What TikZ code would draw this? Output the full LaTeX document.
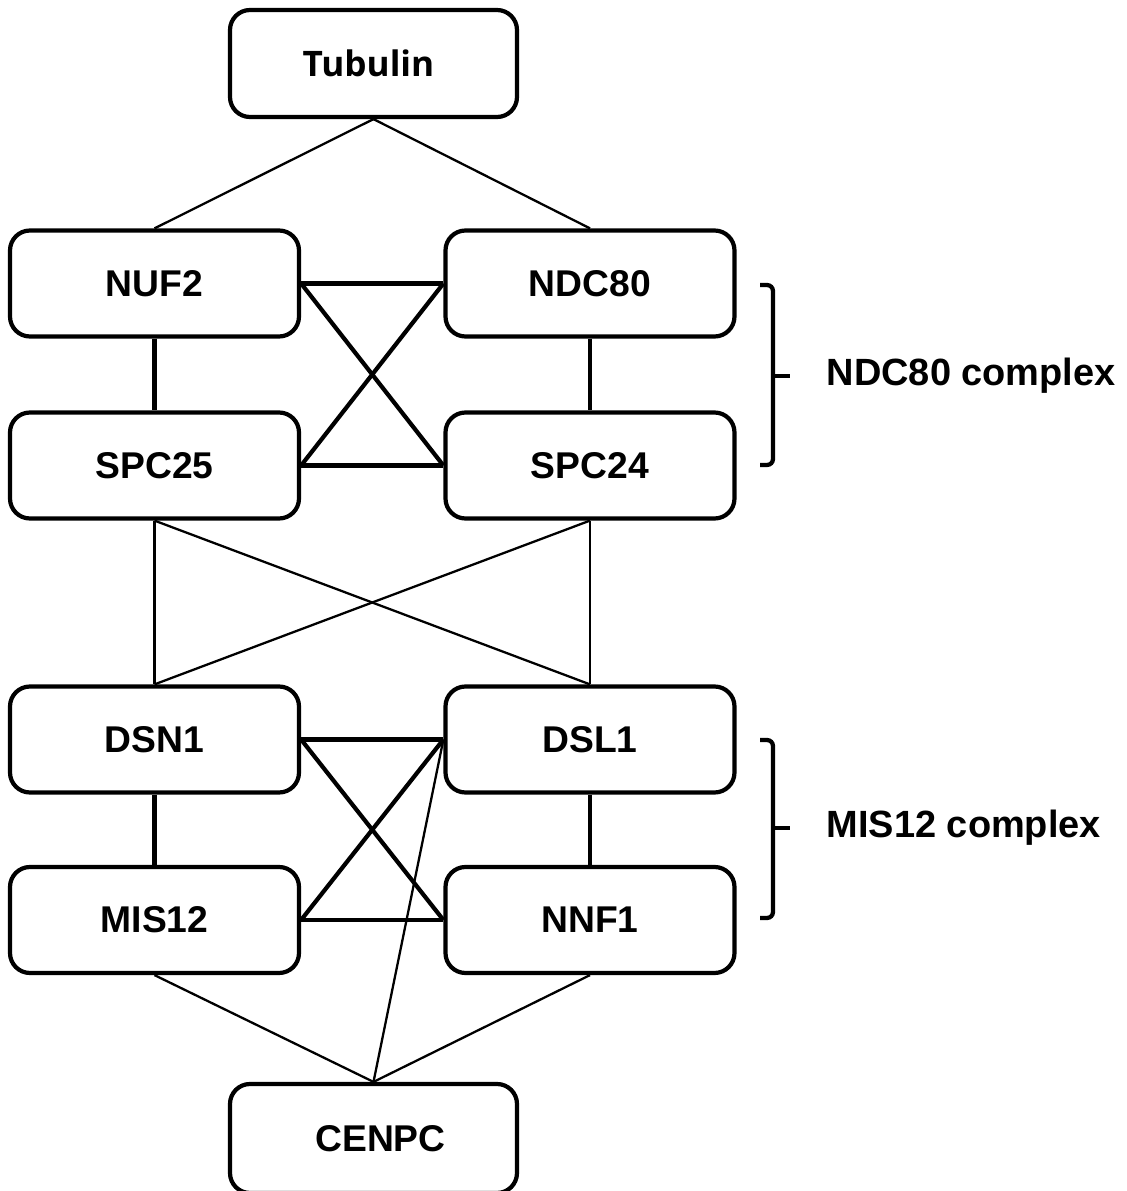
\documentclass[tikz,border=0pt]{standalone}
\usepackage{fontspec}
\setmainfont{Liberation Sans}
\newfontfamily\tubfont{Open Sans}
\usepackage{xcolor}
\definecolor{colorn}{RGB}{0,0,0}
\usepackage{tikz}
\usetikzlibrary{calc}
\tikzstyle{blockP} = [draw=colorn, line width=1.2pt, rounded corners=0.2cm, minimum width=2.89cm, minimum height=1.06cm, font=\fontsize{10.6}{12}\selectfont\bfseries, inner sep=0pt]
\tikzstyle{linkIn} = [draw=colorn, line width=1.2pt]
\tikzstyle{linkOut} = [draw=colorn, line width=0.65pt]
\tikzstyle{braceB} = [draw=colorn, line width=1.2pt, rounded corners=0.06cm]
\tikzstyle{labelC} = [anchor=west, inner sep=0pt, font=\fontsize{10.8}{12}\selectfont\bfseries]

\begin{document}
\begin{tikzpicture}
  \useasboundingbox (0,0) rectangle (11.27,11.91);

  \node[rectangle,blockP,minimum width=2.87cm,minimum height=1.07cm,font=\tubfont\fontsize{10}{12}\selectfont\bfseries,text depth=0pt] (tub) at (3.735,11.275) {\hspace*{-0.1cm}Tubulin};

  %NDC80 complex
  \node[rectangle,blockP] (nuf2) at (1.545,9.075) {NUF2};
  \node[rectangle,blockP] (ndc80) at (5.90,9.075) {NDC80};
  \node[rectangle,blockP] (spc25) at (1.545,7.255) {SPC25};
  \node[rectangle,blockP] (spc24) at (5.90,7.255) {SPC24};

  %MIS12 complex
  \node[rectangle,blockP] (dsn1) at (1.545,4.515) {DSN1};
  \node[rectangle,blockP] (dsl1) at (5.90,4.515) {DSL1};
  \node[rectangle,blockP] (mis12) at (1.545,2.71) {MIS12};
  \node[rectangle,blockP] (nnf1) at (5.90,2.71) {NNF1};

  \node[rectangle,blockP,minimum width=2.87cm,minimum height=1.09cm] (cenpc) at (3.735,0.525) {\hspace*{0.14cm}CENPC};

  \path[linkOut] (tub.south) -- (nuf2.north);
  \path[linkOut] (tub.south) -- (ndc80.north);

  \foreach \a/\b in {nuf2/ndc80, nuf2/spc24, spc25/ndc80, spc25/spc24, dsn1/dsl1, dsn1/nnf1, mis12/dsl1, mis12/nnf1}
  \path[linkIn] (\a.east) -- (\b.west);

  \foreach \a/\b in {nuf2/spc25, ndc80/spc24, dsn1/mis12, dsl1/nnf1}
  \path[linkIn] (\a.south) -- (\b.north);

  \foreach \a in {spc25, spc24}
  \foreach \b in {dsn1, dsl1}
  \path[linkOut] (\a.south) -- (\b.north);

  \path[linkOut] (mis12.south) -- (cenpc.north);
  \path[linkOut] (nnf1.south) -- (cenpc.north);
  \path[linkOut] (cenpc.north) -- (dsl1.west);

  %braces
  \coordinate (ndcTop) at (7.60,9.06);
  \coordinate (ndcBot) at (7.60,7.26);
  \coordinate (ndcMid) at (7.73,8.15);
  \draw[braceB] (ndcTop) -- (7.73,9.06) -- (7.73,7.26) -- (ndcBot);
  \draw[braceB] (ndcMid) -- ++(0.17,0);
  \node[labelC] (ndcLab) at (8.26,8.15) {NDC80 complex};

  \coordinate (misTop) at (7.60,4.51);
  \coordinate (misBot) at (7.60,2.73);
  \coordinate (misMid) at (7.73,3.63);
  \draw[braceB] (misTop) -- (7.73,4.51) -- (7.73,2.73) -- (misBot);
  \draw[braceB] (misMid) -- ++(0.17,0);
  \node[labelC] (misLab) at (8.26,3.63) {MIS12 complex};
\end{tikzpicture}
\end{document}
